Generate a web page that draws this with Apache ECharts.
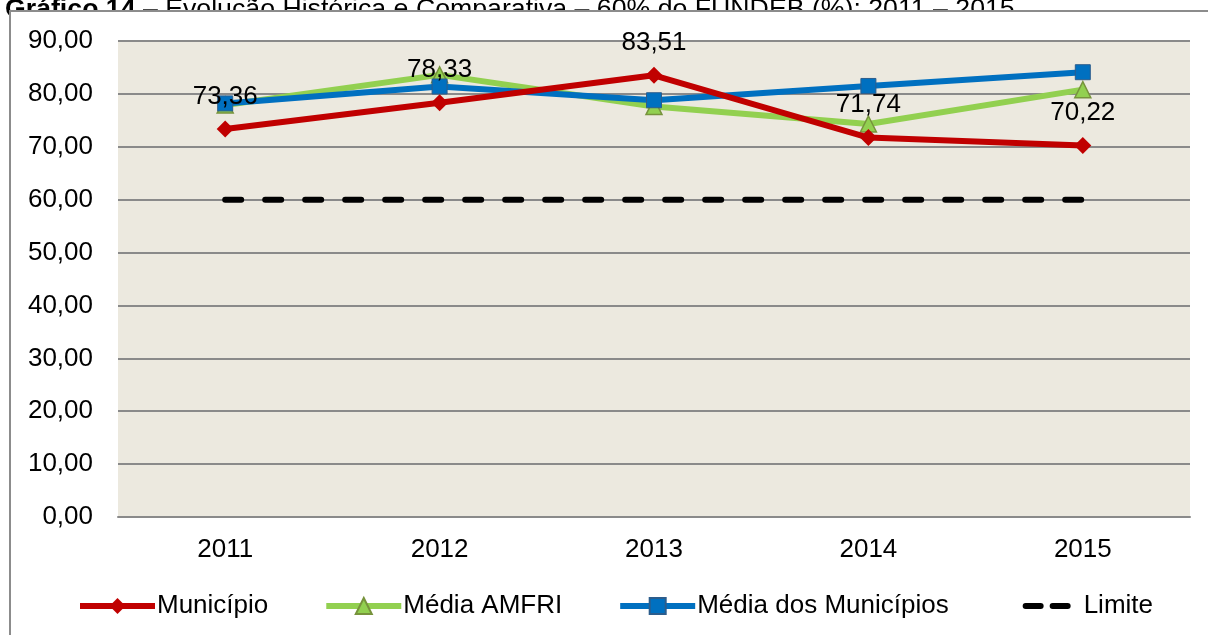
<!DOCTYPE html>
<html>
<head>
<meta charset="utf-8">
<script src="https://cdn.jsdelivr.net/npm/echarts@6/dist/echarts.min.js"></script>
<style>
  html, body { margin: 0; padding: 0; background: #ffffff; }
  #chart { width: 1208px; height: 635px; }
</style>
</head>
<body>
<div id="chart"></div>
<script>
const categories = ['2011', '2012', '2013', '2014', '2015'];
const municipio = [73.36, 78.33, 83.51, 71.74, 70.22];
const mediaAmfri = [77.9, 83.6, 77.6, 74.3, 80.8];
const mediaMunicipios = [78.2, 81.4, 78.8, 81.5, 84.1];
const limite = [60, 60, 60, 60, 60];
const yTicks = { min: 0, max: 90, interval: 10 };
const titleBold = 'Gráfico 14';
const titleRest = ' – Evolução Histórica e Comparativa – 60% do FUNDEB (%): 2011 – 2015';

const fmt = v => Number(v).toFixed(2).replace('.', ',');
const FONT = '"Liberation Sans", Arial, sans-serif';
const FS = 26;

const chart = echarts.init(document.getElementById('chart'), null, { renderer: 'canvas' });
chart.setOption({
  animation: false,
  backgroundColor: '#ffffff',
  textStyle: { fontFamily: FONT, color: '#000' },
  graphic: [
    {
      type: 'text', z: -30, left: 5, top: -4,
      style: {
        text: '{b|' + titleBold + '}{r|' + titleRest + '}',
        rich: {
          b: { fontFamily: FONT, fontSize: 26.7, fontWeight: 'bold', fill: '#000' },
          r: { fontFamily: FONT, fontSize: 26.7, fill: '#000' }
        }
      }
    },
    {
      type: 'rect', z: -20,
      shape: { x: 10, y: 11, width: 1220, height: 650 },
      style: { fill: '#ffffff', stroke: '#8c8c8c', lineWidth: 2 }
    }
  ],
  grid: {
    left: 118, right: 18, top: 41, bottom: 118,
    show: true, backgroundColor: '#ECE9DF', borderWidth: 0
  },
  legend: {
    left: 77, top: 593, padding: 0,
    itemWidth: 75, itemHeight: 20, itemGap: 55,
    textStyle: { fontFamily: FONT, fontSize: FS, color: '#000', padding: [0, 0, 0, -3] },
    data: [
      { name: 'Município', lineStyle: { width: 6 } },
      { name: 'Média AMFRI', lineStyle: { width: 6 } },
      { name: 'Média dos Municípios', lineStyle: { width: 6 } },
      { name: 'Limite', itemStyle: { opacity: 0 },
        lineStyle: { width: 6, type: [15, 12, 15, 33], dashOffset: 56, cap: 'round' } }
    ]
  },
  xAxis: {
    type: 'category', data: categories, boundaryGap: true,
    axisLine: { lineStyle: { color: '#8a8a8a', width: 2 } },
    axisTick: { show: false },
    axisLabel: { fontFamily: FONT, fontSize: FS, color: '#000', margin: 20 }
  },
  yAxis: {
    type: 'value', min: yTicks.min, max: yTicks.max, interval: yTicks.interval,
    axisLine: { show: false }, axisTick: { show: false },
    splitLine: { lineStyle: { color: '#8a8a8a', width: 2 } },
    axisLabel: { fontFamily: FONT, fontSize: FS, color: '#000', margin: 25, formatter: fmt }
  },
  series: [
    {
      name: 'Limite', type: 'line', data: limite, z: 2,
      symbol: 'none', color: '#000',
      lineStyle: { color: '#000', width: 6, type: [16, 24], cap: 'round' }
    },
    {
      name: 'Média AMFRI', type: 'line', data: mediaAmfri, z: 3,
      symbol: 'triangle', symbolSize: 16, color: '#92D050',
      lineStyle: { color: '#92D050', width: 6 },
      itemStyle: { color: '#92D050', borderColor: '#77933C', borderWidth: 1.5 }
    },
    {
      name: 'Média dos Municípios', type: 'line', data: mediaMunicipios, z: 4,
      symbol: 'rect', symbolSize: 15, color: '#0070C0',
      lineStyle: { color: '#0070C0', width: 6 },
      itemStyle: { color: '#0070C0', borderColor: '#2C5D8C', borderWidth: 1 }
    },
    {
      name: 'Município', type: 'line', data: municipio, z: 5,
      symbol: 'diamond', symbolSize: 17, color: '#C00000',
      lineStyle: { color: '#C00000', width: 6 },
      itemStyle: { color: '#C00000' },
      label: {
        show: true, position: 'top', distance: 11,
        fontFamily: FONT, fontSize: FS, color: '#000',
        formatter: p => fmt(p.value)
      }
    }
  ]
});
</script>
</body>
</html>
